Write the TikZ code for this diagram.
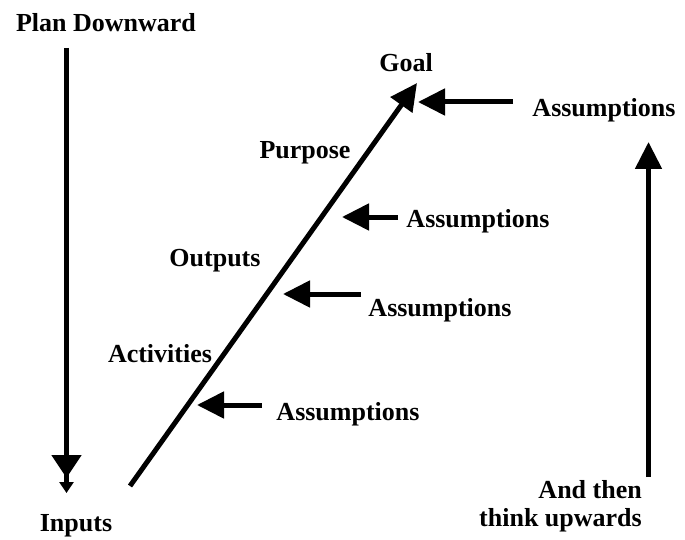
\documentclass[tikz,border=0pt]{standalone}
\usepackage{fontspec}
\setmainfont{Liberation Serif}
\usetikzlibrary{arrows.meta}

\begin{document}
\begin{tikzpicture}
        [x=1pt, y=-1pt,
        label/.style={font=\bfseries\fontsize{26}{28}\selectfont, inner sep=0pt, align=center},
        arrow/.style={line width=5pt, black, -{Triangle[length=27pt, width=26pt]}},
        downarrow/.style={line width=5pt, black,
            -{Triangle[length=23pt, width=29pt, sep=4pt] Triangle[length=11pt, width=14pt]}}]

        \useasboundingbox (0,0) rectangle (685,540);

        % labels along the logframe
        \node[label] (plan) at (106,23) {Plan Downward};
        \node[label] (goal) at (406,63) {Goal};
        \node[label] (purpose) at (305,153) {Purpose};
        \node[label] (outputs) at (215,261) {Outputs};
        \node[label] (activities) at (160,354) {Activities};
        \node[label] (inputs) at (76,526) {Inputs};
        \node[label, align=right, anchor=east] (upw) at (642,506) {And then\\think upwards};

        % assumptions on the right side
        \node[label] (asm1) at (604,110) {Assumptions};
        \node[label] (asm2) at (478,221) {Assumptions};
        \node[label] (asm3) at (440,310) {Assumptions};
        \node[label] (asm4) at (348,414) {Assumptions};

        % the main diagonal from inputs up to the goal
        \coordinate (D0) at (130,486);
        \coordinate (D1) at (417,83);
        \draw[arrow] (D0) -- (D1);

        % plan downward / think upwards
        \coordinate (L0) at (66.5,48);
        \coordinate (L1) at (66.5,493);
        \draw[downarrow] (L0) -- (L1);

        \coordinate (R0) at (648.5,477);
        \coordinate (R1) at (648.5,142);
        \draw[arrow] (R0) -- (R1);

        % assumption arrows pointing at the diagonal
        \coordinate (A1) at (513,102);
        \coordinate (T1) at (418,102);
        \coordinate (A2) at (398,217);
        \coordinate (T2) at (342,217);
        \coordinate (A3) at (361,294);
        \coordinate (T3) at (283,294);
        \coordinate (A4) at (262,405);
        \coordinate (T4) at (197,405);

        \draw[arrow] (A1) -- (T1);
        \draw[arrow] (A2) -- (T2);
        \draw[arrow] (A3) -- (T3);
        \draw[arrow] (A4) -- (T4);
    \end{tikzpicture}
\end{document}
